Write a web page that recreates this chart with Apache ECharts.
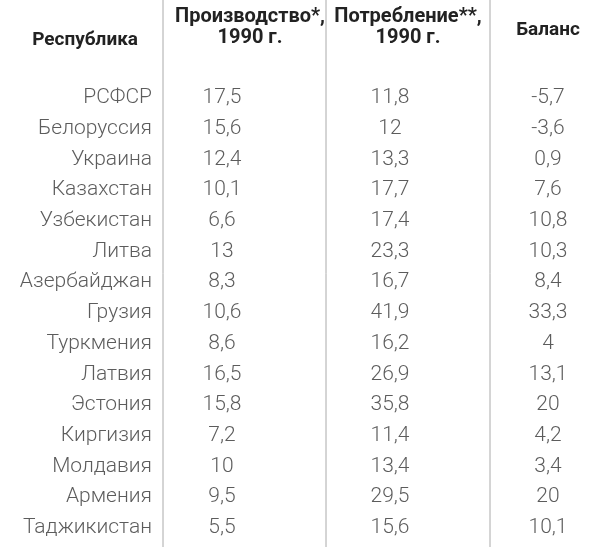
<!DOCTYPE html>
<html><head><meta charset="utf-8">
<script src="https://cdn.jsdelivr.net/npm/echarts@6/dist/echarts.min.js"></script>
<style>html,body{margin:0;padding:0;background:#fff}#c{width:604px;height:547px}</style>
</head><body><div id="c"></div>
<script>
var republics = ['РСФСР','Белоруссия','Украина','Казахстан','Узбекистан','Литва','Азербайджан','Грузия','Туркмения','Латвия','Эстония','Киргизия','Молдавия','Армения','Таджикистан'];
var production = ['17,5','15,6','12,4','10,1','6,6','13','8,3','10,6','8,6','16,5','15,8','7,2','10','9,5','5,5'];
var consumption = ['11,8','12','13,3','17,7','17,4','23,3','16,7','41,9','16,2','26,9','35,8','11,4','13,4','29,5','15,6'];
var balance = ['-5,7','-3,6','0,9','7,6','10,8','10,3','8,4','33,3','4','13,1','20','4,2','3,4','20','10,1'];
var headers = ['Республика','Производство*,\n1990 г.','Потребление**,\n1990 г.','Баланс'];

var FONT = "Roboto,'Liberation Sans',sans-serif";
var colX = [152, 222, 390, 548];

function col(values, x, pos) {
  return {
    type: 'scatter', symbolSize: 0, silent: true,
    data: values.map(function (v, i) { return { value: [x, i], name: v }; }),
    label: { show: true, position: pos, distance: 0, formatter: '{b}',
      fontFamily: FONT, fontSize: 21, fontWeight: 300, color: '#333' }
  };
}

var chart = echarts.init(document.getElementById('c'));
chart.setOption({
  animation: false,
  grid: { left: 0, right: 0, top: 82.6, bottom: 3.7 },
  xAxis: { type: 'value', min: 0, max: 604, show: false },
  yAxis: { type: 'category', inverse: true, data: republics, show: false },
  series: [
    col(republics, colX[0], 'left'),
    col(production, colX[1], 'inside'),
    col(consumption, colX[2], 'inside'),
    col(balance, colX[3], 'inside')
  ],
  graphic: [
    { type: 'line', shape: { x1: 163, y1: 0, x2: 163, y2: 547 }, style: { stroke: '#aaa', lineWidth: 1 } },
    { type: 'line', shape: { x1: 326, y1: 0, x2: 326, y2: 547 }, style: { stroke: '#aaa', lineWidth: 1 } },
    { type: 'line', shape: { x1: 490, y1: 0, x2: 490, y2: 547 }, style: { stroke: '#aaa', lineWidth: 1 } },
    { type: 'text', x: 138, y: 40, style: { text: headers[0], align: 'right', verticalAlign: 'middle', font: 'bold 19px ' + FONT, fill: '#222' } },
    { type: 'text', x: 250, y: 27, style: { text: headers[1], align: 'center', verticalAlign: 'middle', lineHeight: 21, font: 'bold 20px ' + FONT, fill: '#222' } },
    { type: 'text', x: 408, y: 27, style: { text: headers[2], align: 'center', verticalAlign: 'middle', lineHeight: 21, font: 'bold 20px ' + FONT, fill: '#222' } },
    { type: 'text', x: 548, y: 30, style: { text: headers[3], align: 'center', verticalAlign: 'middle', font: 'bold 19px ' + FONT, fill: '#222' } }
  ]
});
</script></body></html>
